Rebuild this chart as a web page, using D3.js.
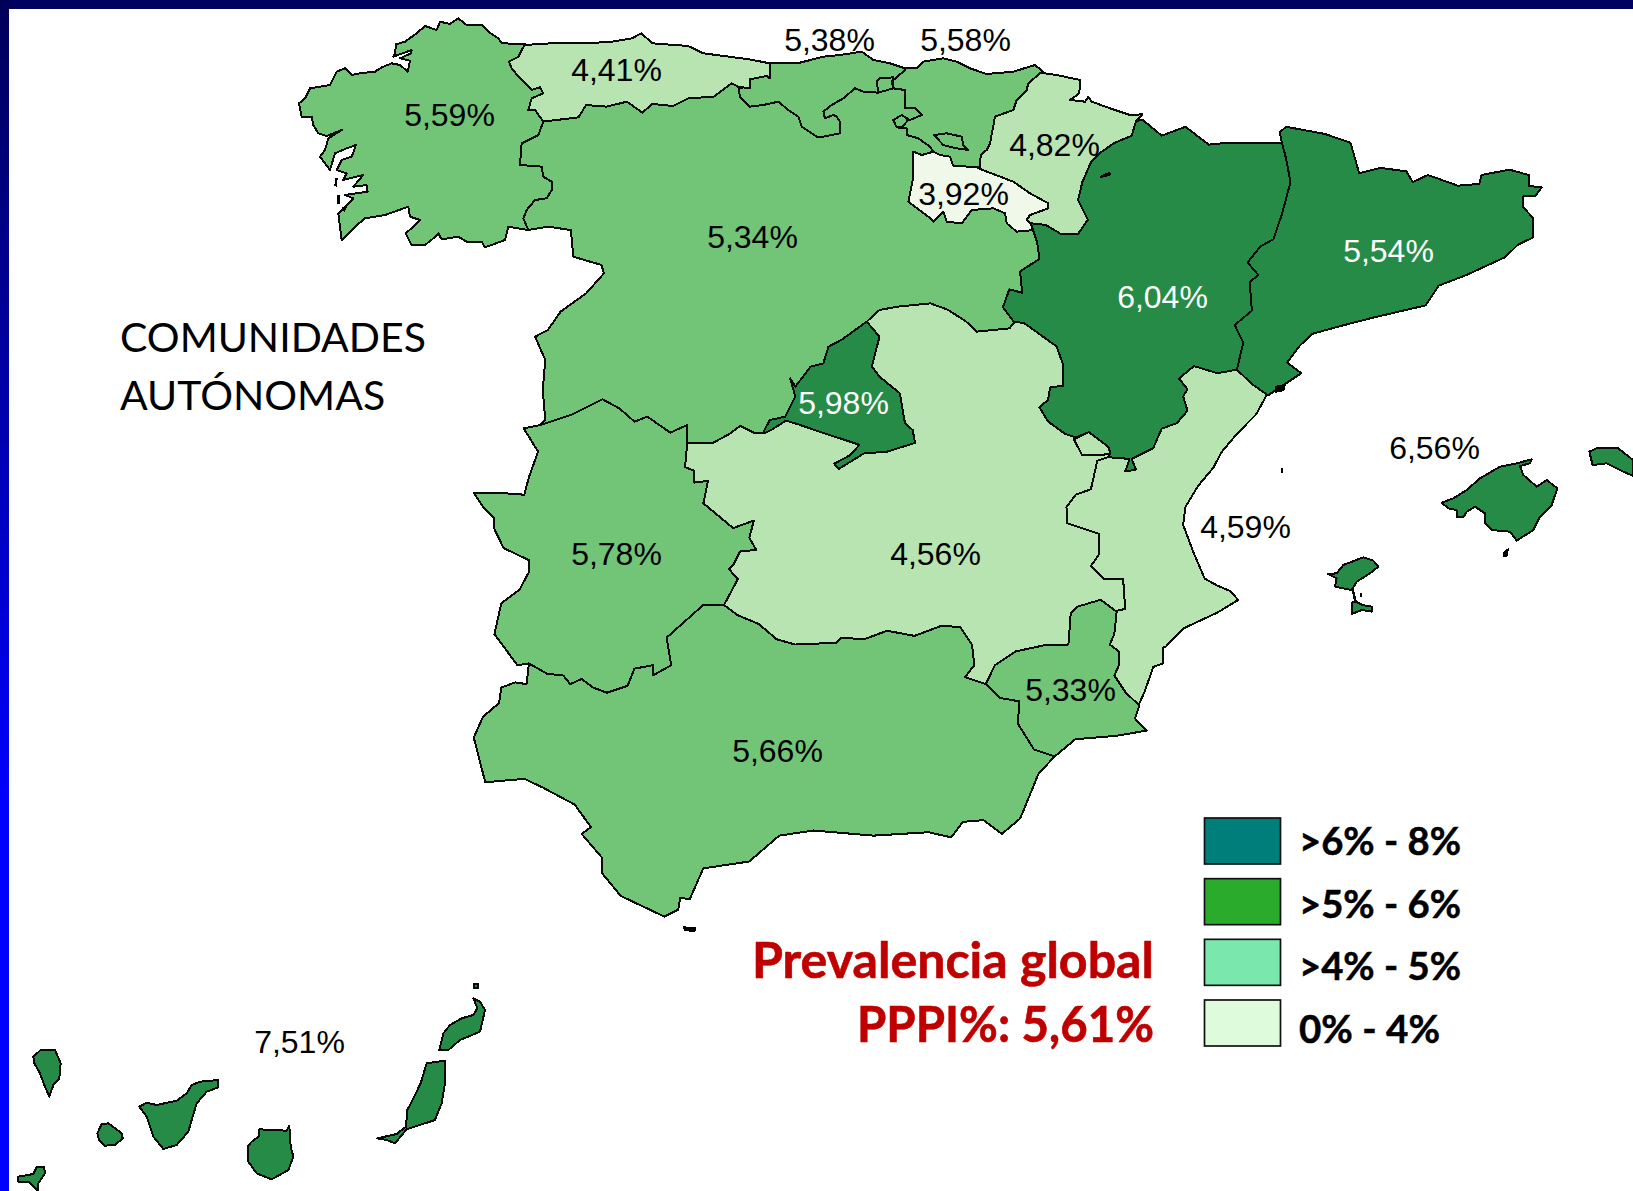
<!DOCTYPE html>
<html lang="es">
<head>
<meta charset="utf-8">
<script src="https://cdn.jsdelivr.net/npm/d3@7"></script>
<style>html,body{margin:0;padding:0;background:#fff}svg{display:block}</style>
</head>
<body>
<svg id="chart" width="1633" height="1191"></svg>
<script>
// ---- data -------------------------------------------------------------
const regionNames = ["Galicia","Asturias","Cantabria","País Vasco","Navarra","La Rioja","Castilla y León","Madrid","Castilla-La Mancha","Aragón","Cataluña","C. Valenciana","Murcia","Extremadura","Andalucía","Baleares","Canarias"];
const regionValues = [5.59,4.41,5.38,5.58,4.82,3.92,5.34,5.98,4.56,6.04,5.54,4.59,5.33,5.78,5.66,6.56,7.51];
const regionClass = ["mid","light","mid","mid","light","pale","mid","dark","light","dark","dark","light","mid","mid","mid","dark","dark"];
const labelText = regionValues.map(v => v.toFixed(2).replace(".", ",") + "%");
const legendLabels = [">6% - 8%",">5% - 6%",">4% - 5%","0% - 4%"];
const legendColors = ["#007e7a","#2bab2b","#7ae8ac","#defcdc"];
const titleLines = ["COMUNIDADES","AUTÓNOMAS"];
const globalLines = ["Prevalencia global","PPPI%: 5,61%"];

const arcs = {
 galCoast:["E",[[720,102],[650,100],[640,85],[610,65],[590,45],[545,45],[520,25],[495,42],[465,35],[455,60],[420,48],[395,70],[360,95],[333,103],[330,130],[325,140],[380,120],[378,130],[345,145],[375,152],[368,185],[345,165],[320,160],[290,172],[270,185],[225,190],[200,195],[180,175],[155,185],[135,225],[75,235],[60,265],[42,280],[50,320],[80,320],[85,345],[100,370],[125,378],[170,360],[130,385],[120,420],[105,440],[135,480],[150,430],[185,415],[213,405],[200,440],[170,450],[155,480],[185,490],[175,510],[235,495],[205,530],[245,525],[248,545],[180,555],[205,565],[170,600],[160,610],[170,690],[210,650],[240,625],[300,615],[370,590],[375,620],[405,630],[385,650],[362,670],[380,705],[420,705],[445,685],[460,670],[470,688],[520,680],[545,695],[590,695],[600,712],[660,690],[670,650],[730,660]]],
 galCyl:["E",[[730,660],[715,625],[725,600],[750,570],[785,565],[800,540],[800,515],[775,500],[770,470],[705,465],[710,400],[760,375],[775,335]]],
 galAst:["E",[[775,335],[750,300],[730,300],[740,265],[775,250],[765,232],[740,240],[705,205],[680,175],[672,155],[700,140],[720,102]]],
 astCoast:["A",[[478,135],[530,130],[600,130],[650,125],[690,115],[708,100],[730,130],[800,138],[830,160],[880,170],[920,178],[960,190]]],
 astCyl:["A",[[515,365],[585,352],[600,315],[640,320],[680,305],[710,338],[730,312],[770,318],[800,295],[850,290],[885,250],[905,265]]],
 astCant:["G",[[25,140],[60,145],[60,118],[110,108],[120,115],[120,70]]],
 cantCoast:["G",[[120,70],[210,68],[280,50],[330,45],[395,35],[430,60],[480,70],[525,85]]],
 cantCyl:["G",[[25,140],[30,170],[60,200],[100,195],[145,185],[175,210],[205,230],[215,260],[245,280],[260,290],[280,290],[330,280],[330,245],[320,230],[310,225],[285,235],[280,215],[305,195],[340,175],[375,145],[400,155],[445,158],[490,145]]],
 cantPv:["G",[[490,145],[485,125],[525,90],[525,85]]],
 pvCoast:["G",[[525,85],[560,85],[580,65],[640,55],[680,65],[720,85],[770,102],[850,95],[915,75],[945,100]]],
 pvCyl:["G",[[490,145],[525,150],[525,205],[555,205],[575,225],[540,240],[515,225],[490,240],[500,262],[530,265],[530,285],[565,295],[600,320],[610,335]]],
 pvRio:["G",[[610,335],[630,345],[660,350],[670,378],[720,380],[750,382]]],
 pvNav:["G",[[750,382],[752,345],[770,330],[780,310],[795,230],[850,210],[860,180],[890,150],[895,130],[930,100],[945,100]]],
 navN1:["G",[[945,100],[980,105],[1050,120],[1048,160],[1020,180],[1065,185],[1075,170],[1085,185],[1140,205],[1200,225]]],
 navN2:["B",[[425,40],[410,60]]],
 navAra:["B",[[410,60],[400,100],[360,120],[330,145],[305,175],[285,230],[275,280],[298,335],[275,375],[235,375],[200,350],[165,345]]],
 navRio:["G",[[915,560],[890,540],[900,525],[955,505],[955,490],[900,460],[850,425],[745,385],[750,382]]],
 rioTop:["G",[[550,335],[575,345],[610,335]]],
 rioCyl:["G",[[915,570],[860,575],[830,550],[825,520],[790,505],[725,510],[695,550],[650,545],[640,515],[610,545],[595,530],[535,485],[550,410],[550,335]]],
 araNorth:["B",[[410,60],[425,55],[470,100],[525,75],[580,125],[620,120],[680,120],[750,120]]],
 araCat:["B",[[750,120],[760,165],[770,230],[750,320],[730,390],[700,410],[670,455],[695,490],[675,510],[680,590],[640,630],[660,680],[645,755]]],
 araVal:["B",[[645,755],[600,765],[545,745],[510,780],[530,810],[520,830],[530,870],[505,905],[470,920],[450,975],[400,1005],[410,1035],[385,1040],[395,1005],[345,1000]]],
 araCLM:["B",[[345,1000],[350,985],[345,970],[300,930],[270,945],[245,935],[205,900],[185,860],[205,840],[210,805],[240,800],[240,740],[225,690],[150,625],[125,620]]],
 araCyl:["B",[[165,345],[180,400],[185,445],[140,480],[145,540],[115,530],[100,580],[125,620]]],
 catCoast:["B",[[750,120],[745,90],[760,75],[850,95],[910,120],[930,205],[980,190],[1040,200],[1055,230],[1090,210],[1160,240],[1210,235],[1215,210],[1280,195],[1325,210],[1325,240],[1355,245],[1340,270],[1312,270],[1312,300],[1335,330],[1335,385],[1300,405],[1270,440],[1180,490],[1115,520],[1085,575],[960,610],[880,635],[820,655],[790,690],[762,735],[795,765],[720,825]]],
 catVal:["B",[[715,825],[680,795],[645,755]]],
 valCoastB:["B",[[715,825],[690,880],[645,935],[610,985],[590,1030],[555,1080],[525,1140],[520,1190],[545,1270],[570,1340],[600,1360],[630,1375],[648,1400],[600,1435],[520,1480],[480,1530]]],
 valCoastC:["C",[[1530,720],[1530,765],[1510,775],[1490,850],[1478,885]]],
 valMur:["C",[[1478,885],[1450,850],[1425,800],[1435,770],[1435,730],[1415,710],[1425,680],[1430,615]]],
 valCLM:["B",[[345,1000],[320,1010],[305,1090],[270,1105],[248,1140],[250,1185],[325,1215],[325,1270],[305,1305],[335,1340],[380,1340],[385,1425],[365,1430]]],
 clmCyl:["A",[[1150,965],[1175,930],[1210,920],[1275,910],[1310,930],[1345,965],[1365,995],[1430,985],[1440,965]]],
 clmCylW:["C",[[495,125],[550,125],[585,100],[610,75],[640,95],[665,95]]],
 clmExt:["C",[[495,125],[490,195],[510,205],[510,240],[540,235],[530,300],[595,372],[640,350],[630,400],[645,435],[610,440],[595,480],[585,490],[605,520],[575,595]]],
 clmAnd:["C",[[575,595],[605,625],[650,650],[690,695],[730,710],[820,705],[830,690],[880,695],[930,670],[990,685],[1050,655],[1090,660],[1115,710],[1120,770],[1100,805],[1145,825]]],
 clmMur:["C",[[1145,825],[1165,770],[1210,730],[1280,710],[1325,710],[1330,620],[1345,600],[1395,580],[1430,615]]],
 madW:["A",[[1150,965],[1100,1020],[1075,1040],[1065,1090],[1040,1100],[1010,1160],[1000,1135],[1010,1190],[990,1250],[960,1260],[948,1295]]],
 madS:["C",[[665,95],[680,85],[710,60],[735,70],[790,95],[870,130],[850,160],[815,185],[825,200],[880,155],[930,150],[990,125]]],
 madE:["A",[[1245,1330],[1240,1290],[1225,1270],[1215,1180],[1175,1130],[1160,1100],[1175,1010],[1150,965]]],
 murCoast:["C",[[1295,1035],[1340,985],[1430,975],[1495,960],[1470,925],[1480,885]]],
 andMur:["C",[[1295,1035],[1250,1015],[1215,940],[1218,875],[1175,865],[1145,825]]],
 andCoast:["C",[[150,765],[145,825],[120,820],[90,835],[85,880],[50,920],[30,980],[55,1110],[140,1100],[180,1125],[250,1175],[285,1240],[265,1260],[310,1330],[310,1375],[350,1440],[445,1500],[475,1480],[480,1445],[500,1450],[530,1360],[630,1340],[695,1265],[770,1250],[900,1265],[1020,1255],[1070,1270],[1095,1225],[1140,1220],[1180,1260],[1220,1215],[1260,1085],[1295,1035]]],
 extWest:["C",[[140,85],[170,150],[150,225],[140,275],[90,270],[30,270],[50,310],[75,345],[75,375],[95,430],[150,465],[150,500],[130,550],[90,590],[75,680],[125,770],[150,765]]],
 extAnd:["C",[[150,765],[190,795],[225,800],[240,825],[265,810],[290,835],[320,850],[365,830],[380,780],[420,770],[420,800],[460,770],[450,690],[530,595],[575,595]]],
 extCyl:["A",[[478,1285],[510,1275],[570,1245],[632,1198],[665,1225],[695,1265],[720,1250],[765,1298],[798,1275],[798,1330]]],
 cylPort:["A",[[487,690],[525,680],[570,690],[575,770],[630,795],[635,820],[600,880],[550,935],[525,990],[500,1010],[520,1080],[515,1170],[520,1260],[510,1275],[478,1285]]],
 ademuz:["B",[[265,950],[300,930],[345,970],[350,990],[325,995],[285,995]]],
 trevino:["G",[[612,285],[650,280],[695,290],[700,315],[715,330],[680,325],[640,315]]],
 villaverde:["G",[[440,125],[450,115],[490,112],[490,145],[445,158]]],
 orduna:["G",[[490,240],[515,222],[535,240],[515,262],[500,262]]],
 mallorca:["F",[[365,218],[400,205],[440,180],[480,145],[540,110],[590,100],[635,88],[630,100],[600,108],[610,135],[650,170],[680,150],[712,175],[695,225],[660,260],[640,300],[590,332],[570,305],[515,300],[495,280],[495,250],[465,230],[440,245],[430,262],[412,262],[410,240],[385,235]]],
 menorca:["F",[[808,65],[830,55],[895,55],[939,90],[939,138],[900,120],[860,100],[818,105]]],
 ibiza:["F",[[25,432],[50,430],[70,405],[130,382],[160,392],[175,410],[150,430],[110,455],[95,480],[45,470],[50,445]]],
 formentera:["F",[[98,478],[108,515],[128,525],[155,530],[155,545],[125,540],[95,552],[95,518],[105,515]]],
 laPalma:["D",[[100,260],[122,240],[165,240],[182,280],[178,325],[160,345],[148,380],[135,350],[120,310],[103,280]]],
 gomera:["D",[[292,490],[305,462],[325,460],[365,490],[368,505],[345,525],[315,527],[298,512]]],
 tenerife:["D",[[418,410],[440,398],[470,405],[530,392],[560,370],[575,345],[600,335],[655,330],[655,352],[620,365],[590,400],[575,450],[565,485],[530,525],[490,537],[460,500],[440,440]]],
 granCanaria:["D",[[743,530],[755,515],[778,498],[778,478],[860,482],[868,468],[872,530],[880,560],[865,600],[815,628],[770,610],[745,575]]],
 fuerteventura:["D",[[1132,505],[1190,492],[1218,470],[1222,420],[1240,385],[1262,340],[1280,280],[1335,272],[1335,340],[1325,400],[1305,450],[1220,478],[1185,520],[1160,510]]],
 lanzarote:["D",[[1318,240],[1330,190],[1350,165],[1385,145],[1420,135],[1432,115],[1420,85],[1440,95],[1455,120],[1440,185],[1380,210],[1345,240]]],
 graciosa:["D",[[1422,42],[1435,42],[1435,55],[1422,55]]],
 hierro:["D",[[55,620],[100,612],[110,592],[132,590],[135,610],[115,640],[115,665],[85,635],[55,635]]]
};
// tiny islets and rocks, solid black
const specks = [
 ["E",[[150,505],[158,505],[155,530],[148,528]]],
 ["E",[[155,555],[166,555],[166,582],[157,582]]],
 ["E",[[170,590],[186,590],[178,608]]],
 ["F",[[550,365],[568,352],[562,380],[548,382]]],
 ["F",[[120,488],[125,488],[125,500],[120,500]]],
 ["B",[[735,800],[760,795],[755,815],[735,820]]],
 ["B",[[748,1030],[752,1030],[752,1045],[748,1045]]],
 ["C",[[485,1528],[515,1532],[512,1545],[488,1542]]],
 ["G",[[1108,408],[1140,395],[1145,405],[1112,415]]]
];
// rings: "-" reverses a piece
const regionRings = {
 "Galicia":[["galCoast","galCyl","galAst"]],
 "Asturias":[["astCoast","-astCant","-astCyl","galAst"]],
 "Cantabria":[["cantCoast","-cantPv","-cantCyl","astCant"]],
 "País Vasco":[["pvCoast","-pvNav","-pvRio","-pvCyl","cantPv"],["trevino"],["orduna"],["villaverde"]],
 "Navarra":[["navN1","navN2","navAra","navRio","pvNav"]],
 "La Rioja":[["rioTop","pvRio","-navRio","rioCyl"]],
 "Castilla y León":[["cylPort","extCyl","clmCylW","-madW","clmCyl","-araCyl","rioCyl","rioTop","-pvCyl","-cantCyl","-astCyl","-galCyl"]],
 "Madrid":[["madW","madS","madE"]],
 "Castilla-La Mancha":[["clmCyl","-araCLM","valCLM","-clmMur","-clmAnd","-clmExt","clmCylW","madS","madE"]],
 "Aragón":[["araNorth","araCat","araVal","araCLM","-araCyl","-navAra"]],
 "Cataluña":[["catCoast","catVal","-araCat"]],
 "C. Valenciana":[["-catVal","valCoastB","valCoastC","valMur","-valCLM","-araVal"],["ademuz"]],
 "Murcia":[["clmMur","-valMur","-murCoast","andMur"]],
 "Extremadura":[["extWest","extAnd","-clmExt","-extCyl"]],
 "Andalucía":[["andCoast","andMur","-clmAnd","-extAnd"]],
 "Baleares":[["mallorca"],["menorca"],["ibiza"],["formentera"]],
 "Canarias":[["laPalma"],["gomera"],["tenerife"],["granCanaria"],["fuerteventura"],["lanzarote"],["graciosa"],["hierro"]]
};

// ---- scales -----------------------------------------------------------
const W = 1633, H = 1191;
const crops = {
 A:{x:d3.scaleLinear([0,1568],[280,1080]),  y:d3.scaleLinear([0,1380],[0,460])},
 B:{x:d3.scaleLinear([0,1568],[960,1633]),  y:d3.scaleLinear([0,1568],[100,660])},
 C:{x:d3.scaleLinear([0,1568],[460,1180]),  y:d3.scaleLinear([0,1568],[400,940])},
 D:{x:d3.scaleLinear([0,1560],[0,520]),     y:d3.scaleLinear([0,663],[970,1191])},
 E:{x:d3.scaleLinear([0,840],[285,565]),    y:d3.scaleLinear([0,1140],[10,390])},
 F:{x:d3.scaleLinear([0,939],[1320,1633]),  y:d3.scaleLinear([0,600],[430,630])},
 G:{x:d3.scaleLinear([0,1200],[730,1130]),  y:d3.scaleLinear([0,630],[40,250])}
};
const classColor = d3.scaleOrdinal(["dark","mid","light","pale"],["#258b47","#72c477","#b8e4b2","#eff8e9"]);
const svg = d3.select("#chart");

const toPixels = (f,p) => p.map(d=>[crops[f].x(d[0]),crops[f].y(d[1])]);
function piece(ref){
 const rev = ref[0]==="-", [f,p] = arcs[rev?ref.slice(1):ref];
 const pts = toPixels(f,p);
 return rev?pts.reverse():pts;
}
const line = d3.line();
const ringPath = ring => line(ring.flatMap(piece))+"Z";

// ---- frame ------------------------------------------------------------
const defs = svg.append("defs");
const grad = defs.append("linearGradient").attr("id","side").attr("x1",0).attr("y1",0).attr("x2",0).attr("y2",1);
grad.selectAll("stop").data([[0,"#000058"],[0.68,"#0000ff"],[1,"#0000ff"]]).join("stop")
 .attr("offset",d=>d[0]).attr("stop-color",d=>d[1]);
svg.append("rect").attr("width",W).attr("height",H).attr("fill","#fff");
svg.append("rect").attr("width",W).attr("height",9).attr("fill","#000060");
svg.append("rect").attr("width",9).attr("height",H).attr("fill","url(#side)");

// ---- map --------------------------------------------------------------
const regions = regionNames.map((name,i)=>({name,cls:regionClass[i],rings:regionRings[name]}));
const map = svg.append("g").attr("shape-rendering","crispEdges");
map.selectAll("path.region").data(regions).join("path").attr("class","region")
 .attr("d",d=>d.rings.map(ringPath).join(""))
 .attr("fill",d=>classColor(d.cls))
 .attr("stroke","#0a0a0a").attr("stroke-width",2).attr("stroke-linejoin","round");
map.selectAll("path.speck").data(specks).join("path").attr("class","speck")
 .attr("d",d=>line(toPixels(d[0],d[1]))+"Z").attr("fill","#000");

// ---- value labels -----------------------------------------------------
const labelX = [449,616,829,965,1054,963,752,843,935,1162,1388,1245,1070,616,777,1434,299];
const labelY = [115,70,40,40,145,194,237,403,554,297,251,527,690,554,751,448,1042];
const labelOnDark = [0,0,0,0,0,0,0,1,0,1,1,0,0,0,0,0,0];
svg.append("g").selectAll("text").data(labelText).join("text")
 .attr("x",(d,i)=>labelX[i]+0.5).attr("y",(d,i)=>labelY[i]-1).attr("dy","0.36em")
 .attr("text-anchor","middle").attr("font-family","'Liberation Sans',Arial,sans-serif").attr("font-size",32)
 .attr("fill",(d,i)=>labelOnDark[i]?"#fff":"#000").text(d=>d);

// ---- heading ----------------------------------------------------------
const titleY = d3.scaleOrdinal(titleLines,[352,410]);
svg.append("g").selectAll("text").data(titleLines).join("text")
 .attr("x",120).attr("y",d=>titleY(d)).attr("font-family","Lato,sans-serif").attr("font-size",41).text(d=>d);

const globalY = d3.scaleOrdinal(globalLines,[978,1042]);
const globalX = d3.scaleOrdinal(globalLines,[752,857]);
const globalW = d3.scaleOrdinal(globalLines,[402,297]);
svg.append("g").selectAll("text").data(globalLines).join("text")
 .attr("x",d=>globalX(d)).attr("y",d=>globalY(d)).attr("textLength",d=>globalW(d)).attr("lengthAdjust","spacingAndGlyphs")
 .attr("font-family","Lato,sans-serif").attr("font-weight",700).attr("font-size",49)
 .attr("fill","#c00000").attr("stroke","#c00000").attr("stroke-width",0.6).text(d=>d);

// ---- legend -----------------------------------------------------------
const legendY = d3.scalePoint(legendLabels,[818,1000]);
const legendTextY = d3.scalePoint(legendLabels,[855,1043]);
const legendTextW = d3.scaleOrdinal(legendLabels,[162,162,162,141]);
svg.append("g").selectAll("rect").data(legendLabels).join("rect")
 .attr("x",1204.5).attr("y",d=>legendY(d)).attr("width",76).attr("height",46)
 .attr("fill",(d,i)=>legendColors[i]).attr("stroke","#111").attr("stroke-width",1.7);
svg.append("g").selectAll("text").data(legendLabels).join("text")
 .attr("x",1299).attr("y",d=>legendTextY(d)).attr("textLength",d=>legendTextW(d)).attr("lengthAdjust","spacingAndGlyphs")
 .attr("font-family","Lato,sans-serif").attr("font-weight",700).attr("font-size",39)
 .attr("stroke","#000").attr("stroke-width",0.5).text(d=>d);
</script>
</body>
</html>
